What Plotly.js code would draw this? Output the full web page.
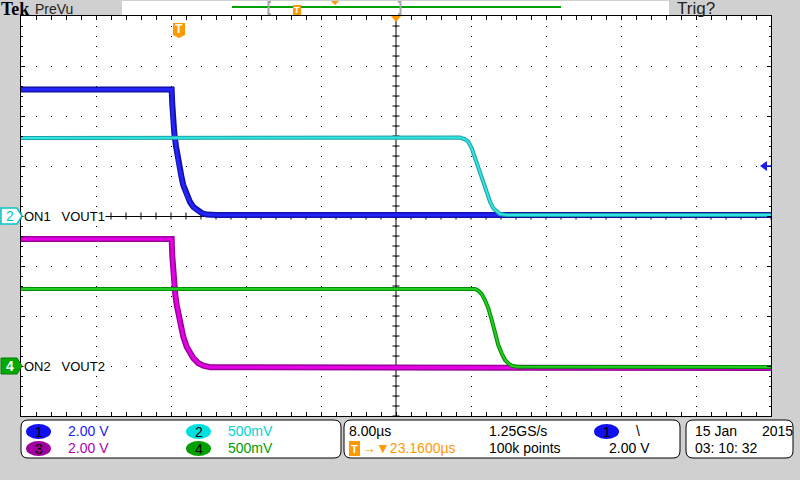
<!DOCTYPE html>
<html>
<head>
<meta charset="utf-8">
<script src="https://cdn.plot.ly/plotly-3.0.1.min.js"></script>
<style>
html,body{margin:0;padding:0;background:#d0d0d0;}
#chart{width:800px;height:480px;}
</style>
</head>
<body>
<div id="chart"></div>
<script>
// ---- Data (time in µs relative to trigger, values in volts) ----
const tCh1 = [-16.84, -0.77, -0.71, -0.63, -0.49, -0.31, -0.06, 0.12, 0.30, 0.47, 0.83, 1.19, 1.54, 1.90, 2.44, 2.97, 4.0, 63.16];
const vCh1 = [5.06, 5.06, 4.52, 3.76, 3.32, 2.80, 2.12, 1.80, 1.52, 1.24, 0.84, 0.56, 0.36, 0.24, 0.12, 0.06, 0.04, 0.04];

const tCh2 = [-16.84, 29.99, 30.52, 30.87, 31.23, 31.41, 31.77, 32.12, 32.47, 32.83, 33.19, 33.54, 33.90, 34.25, 34.97, 63.16];
const vCh2 = [0.78, 0.785, 0.767, 0.743, 0.68, 0.63, 0.53, 0.43, 0.33, 0.23, 0.143, 0.077, 0.043, 0.02, 0.01, 0.01];

const tCh3 = [-16.84, -0.77, -0.71, -0.63, -0.55, -0.49, -0.38, -0.23, -0.06, 0.12, 0.30, 0.47, 0.83, 1.19, 1.54, 2.08, 2.61, 3.33, 63.16];
const vCh3 = [5.08, 5.08, 4.44, 3.84, 3.44, 3.16, 2.84, 2.44, 2.04, 1.72, 1.44, 1.17, 0.77, 0.51, 0.31, 0.11, 0.01, -0.05, -0.08];

const tCh4 = [-16.84, 31.59, 31.94, 32.30, 32.65, 33.01, 33.37, 33.72, 34.07, 34.43, 34.79, 35.14, 35.50, 36.03, 63.16];
const vCh4 = [0.77, 0.77, 0.753, 0.72, 0.66, 0.577, 0.46, 0.327, 0.21, 0.127, 0.06, 0.027, 0.003, -0.007, -0.01];

// channel settings
const voltsPerDiv = [2.0, 0.5, 2.0, 0.5];
const groundDiv = [0, 0, -3, -3];
const channelLabels = ['1', '2', '3', '4'];
const scaleLabels = ['2.00 V', '500mV', '2.00 V', '500mV'];
const timePerDiv = 8.0;           // µs/div
const triggerOffset = 23.16;      // µs, centre of screen after trigger
const trigLevel = 2.0;            // V on ch1

// ---- Layout helpers ----
const L = 21, R = 771, T = 16, B = 416;
const px = x => (x - L) / (R - L);
const py = y => (B - y) / (B - T);
const FONT = 'Liberation Sans, Arial, sans-serif';
function ann(x, y, text, size, color, extra) {
  return Object.assign({xref:'paper', yref:'paper', x:px(x), y:py(y), text:text, showarrow:false,
    xanchor:'left', yanchor:'middle', font:{family:FONT, size:size, color:color}, borderpad:0}, extra || {});
}
function pathPx(pts) {
  return 'M' + pts.map(p => px(p[0]) + ',' + py(p[1])).join('L') + 'Z';
}
function rrect(x0, y0, x1, y1, r) {
  const P = (x, y) => px(x) + ',' + py(y);
  return 'M' + P(x0 + r, y0) + 'L' + P(x1 - r, y0) + 'Q' + P(x1, y0) + ' ' + P(x1, y0 + r) +
    'L' + P(x1, y1 - r) + 'Q' + P(x1, y1) + ' ' + P(x1 - r, y1) +
    'L' + P(x0 + r, y1) + 'Q' + P(x0, y1) + ' ' + P(x0, y1 - r) +
    'L' + P(x0, y0 + r) + 'Q' + P(x0, y0) + ' ' + P(x0 + r, y0) + 'Z';
}
function ell(x0, y0, x1, y1, color) {
  return {type:'circle', xref:'paper', yref:'paper', x0:px(x0), x1:px(x1), y0:py(y1), y1:py(y0),
    fillcolor:color, line:{width:0}, layer:'above'};
}

const xr = [triggerOffset - 5 * timePerDiv, triggerOffset + 5 * timePerDiv];
function yRange(ch) { // volts range for a channel so that 8 divisions fit
  return [(-4 - groundDiv[ch]) * voltsPerDiv[ch], (4 - groundDiv[ch]) * voltsPerDiv[ch]];
}

// ---- crosshair ticks ----
const hx = [], hy = [];
for (let i = 0; i <= 50; i++) { hx.push(xr[0] + i * timePerDiv / 5); hy.push(0); }
const vx = [], vy = [];
for (let i = 0; i <= 40; i++) { vx.push(triggerOffset); vy.push(-8 + i * 0.4); }

const traces = [
  {x:hx, y:hy, mode:'markers', marker:{symbol:'line-ns-open', size:5, color:'#000', line:{color:'#000', width:1}}, hoverinfo:'skip'},
  {x:vx, y:vy, mode:'markers', marker:{symbol:'line-ew-open', size:5, color:'#000', line:{color:'#000', width:1}}, hoverinfo:'skip'},
  {x:[triggerOffset, triggerOffset], y:[-8, 8], mode:'lines', line:{color:'#000', width:1}, hoverinfo:'skip'},
];
const chans = [
  {t:tCh1, v:vCh1, ax:'y',  outer:'#1212a6', inner:'#2424ff', wo:6, wi:3},
  {t:tCh3, v:vCh3, ax:'y3', outer:'#9a009a', inner:'#e600e6', wo:6, wi:3},
  {t:tCh2, v:vCh2, ax:'y2', outer:'#1aa4a4', inner:'#33e2e2', wo:4, wi:2},
  {t:tCh4, v:vCh4, ax:'y4', outer:'#008c00', inner:'#22cc22', wo:4, wi:2},
];
chans.forEach(c => {
  traces.push({x:c.t, y:c.v, yaxis:c.ax, mode:'lines', line:{color:c.outer, width:c.wo}, hoverinfo:'skip'});
  traces.push({x:c.t, y:c.v, yaxis:c.ax, mode:'lines', line:{color:c.inner, width:c.wi}, hoverinfo:'skip'});
});

const shapes = [
  // top record bar
  {type:'rect', xref:'paper', yref:'paper', x0:px(122), x1:px(669), y0:py(15), y1:py(1), fillcolor:'#fff', line:{width:0}},
  {type:'line', xref:'paper', yref:'paper', x0:px(232), x1:px(561), y0:py(7), y1:py(7), line:{color:'#00a000', width:2}},
  {type:'path', xref:'paper', yref:'paper', path:'M'+px(271)+','+py(2)+'L'+px(268.5)+','+py(2)+'L'+px(268.5)+','+py(14)+'L'+px(271)+','+py(14), line:{color:'#a8a8a8', width:2}},
  {type:'path', xref:'paper', yref:'paper', path:'M'+px(398)+','+py(2)+'L'+px(400.5)+','+py(2)+'L'+px(400.5)+','+py(14)+'L'+px(398)+','+py(14), line:{color:'#a8a8a8', width:2}},
  {type:'rect', xref:'paper', yref:'paper', x0:px(293), x1:px(301), y0:py(15), y1:py(5), fillcolor:'#ff9900', line:{width:0}},
  {type:'path', xref:'paper', yref:'paper', path:pathPx([[331,1],[339,1],[335,5]]), fillcolor:'#ff9900', line:{width:0}},
  // trigger position marker in plot
  {type:'path', xref:'paper', yref:'paper', path:pathPx([[173,23],[185,23],[185,35],[179,38],[173,35]]), fillcolor:'#ff9900', line:{width:0}, layer:'above'},
  // time reference triangle
  {type:'path', xref:'paper', yref:'paper', path:pathPx([[391,16],[401,16],[396,22]]), fillcolor:'#ff9900', line:{width:0}, layer:'above'},
  // trigger level arrow
  {type:'path', xref:'paper', yref:'paper', path:pathPx([[760,166],[767,161],[767,171]]), fillcolor:'#1a1af0', line:{width:0}, layer:'above'},
  {type:'line', xref:'paper', yref:'paper', x0:px(766), x1:px(771), y0:py(166), y1:py(166), line:{color:'#1a1af0', width:1.5}, layer:'above'},
  // left channel markers
  {type:'path', xref:'paper', yref:'paper', path:pathPx([[1,208],[17,208],[22,216],[17,224],[1,224]]), fillcolor:'#fff', line:{color:'#00c8c8', width:1.5}, layer:'above'},
  {type:'path', xref:'paper', yref:'paper', path:pathPx([[1,358],[17,358],[22,366],[17,374],[1,374]]), fillcolor:'#00a800', line:{color:'#008000', width:1}, layer:'above'},
  // bottom panels
  {type:'path', xref:'paper', yref:'paper', path:rrect(21,420,341,458,7), fillcolor:'#fff', line:{color:'#000', width:1}},
  {type:'path', xref:'paper', yref:'paper', path:rrect(344,420,680,458,7), fillcolor:'#fff', line:{color:'#000', width:1}},
  {type:'path', xref:'paper', yref:'paper', path:rrect(686,420,793,458,7), fillcolor:'#fff', line:{color:'#000', width:1}},
  ell(26,424,51,439,'#1010f0'),
  ell(26,441,51,456,'#a000a0'),
  ell(186,424,211,439,'#00e0e0'),
  ell(186,441,211,456,'#00a000'),
  ell(594,424,619,439,'#1010f0'),
  {type:'rect', xref:'paper', yref:'paper', x0:px(349), x1:px(360), y0:py(456), y1:py(441), fillcolor:'#ff9900', line:{width:0}},
];

const annotations = [
  ann(0, 9, '<b>Tek</b>', 18, '#000', {font:{family:'Liberation Serif, serif', size:18, color:'#000'}}),
  ann(34, 9, 'PreVu', 14, '#222'),
  ann(676, 9, 'Trig?', 17, '#222'),
  ann(297, 10, '<b>T</b>', 9, '#fff', {xanchor:'center'}),
  ann(179, 29, '<b>T</b>', 12, '#fff', {xanchor:'center'}),
  ann(9.5, 216, '2', 14, '#00c8c8', {xanchor:'center'}),
  ann(9.5, 366, '<b>4</b>', 14, '#fff', {xanchor:'center'}),
  ann(23, 216, 'ON1   VOUT1', 13, '#000', {bgcolor:'#fff'}),
  ann(23, 366, 'ON2   VOUT2', 13, '#000', {bgcolor:'#fff'}),
  // channel panel
  ann(38.5, 431.5, channelLabels[0], 14, '#000', {xanchor:'center'}),
  ann(38.5, 448.5, channelLabels[2], 14, '#000', {xanchor:'center'}),
  ann(198.5, 431.5, channelLabels[1], 14, '#000', {xanchor:'center'}),
  ann(198.5, 448.5, channelLabels[3], 14, '#000', {xanchor:'center'}),
  ann(67, 431, scaleLabels[0], 14, '#2222ee'),
  ann(67, 448, scaleLabels[2], 14, '#b000b0'),
  ann(227, 431, scaleLabels[1], 14, '#00d4d4'),
  ann(227, 448, scaleLabels[3], 14, '#00a000'),
  // horizontal panel
  ann(348, 431, timePerDiv.toFixed(2) + 'µs', 14, '#000'),
  ann(354.5, 448.5, '<b>T</b>', 11, '#fff', {xanchor:'center'}),
  ann(361, 448, '→▼' + triggerOffset.toFixed(4) + 'µs', 14, '#ff9900'),
  ann(488, 431, '1.25GS/s', 14, '#000'),
  ann(488, 448, '100k points', 14, '#000'),
  ann(606.5, 431.5, '1', 14, '#000', {xanchor:'center'}),
  ann(635, 431, '\\', 14, '#000'),
  ann(608, 448, trigLevel.toFixed(2) + ' V', 14, '#000'),
  // date panel
  ann(694, 431, '15 Jan', 14, '#000'),
  ann(761, 431, '2015', 14, '#000'),
  ann(694, 448, '03: 10: 32', 14, '#000'),
];

const baseY = {showgrid:false, zeroline:false, showline:false, showticklabels:false, ticks:'', overlaying:'y', fixedrange:true};
const layout = {
  width:800, height:480,
  margin:{l:21, r:29, t:16, b:64, pad:0},
  paper_bgcolor:'#d0d0d0', plot_bgcolor:'#ffffff',
  showlegend:false,
  xaxis:{range:xr, tick0:triggerOffset, dtick:timePerDiv, showgrid:true, gridcolor:'#000', gridwidth:1, griddash:'1px,9px',
    showline:true, linecolor:'#000', linewidth:1, mirror:'allticks', ticks:'inside', ticklen:4, tickcolor:'#000', tickwidth:1,
    showticklabels:false, zeroline:false, fixedrange:true,
    minor:{tick0:triggerOffset, dtick:timePerDiv/5, ticks:'inside', ticklen:2, tickcolor:'#000', showgrid:false}},
  yaxis:{range:yRange(0), tick0:0, dtick:voltsPerDiv[0], showgrid:true, gridcolor:'#000', gridwidth:1, griddash:'1px,14px',
    showline:true, linecolor:'#000', linewidth:1, mirror:'allticks', ticks:'inside', ticklen:4, tickcolor:'#000', tickwidth:1,
    showticklabels:false, zeroline:true, zerolinecolor:'#000', zerolinewidth:1, fixedrange:true,
    minor:{tick0:0, dtick:voltsPerDiv[0]/5, ticks:'inside', ticklen:2, tickcolor:'#000', showgrid:false}},
  yaxis2:Object.assign({range:yRange(1)}, baseY),
  yaxis3:Object.assign({range:yRange(2)}, baseY),
  yaxis4:Object.assign({range:yRange(3)}, baseY),
  shapes:shapes,
  annotations:annotations,
};
Plotly.newPlot('chart', traces, layout, {staticPlot:true, displayModeBar:false});
</script>
</body>
</html>
